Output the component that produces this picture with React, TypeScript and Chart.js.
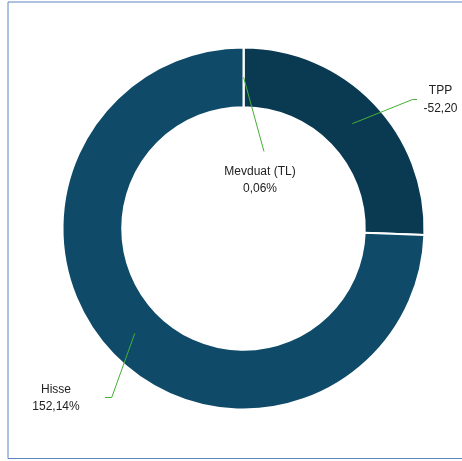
import React, { useEffect, useRef } from "react";
import { Chart, registerables } from "chart.js";

Chart.register(...registerables);

// ---- data ----
const categories: string[] = ["Mevduat (TL)", "TPP", "Hisse"];
const values: number[] = [0.06, -52.2, 152.14];
const valueSuffix: string[] = ["%", "", "%"];
const sliceColors: string[] = ["#1d5b7a", "#0a3a52", "#0f4b68"];

// ---- label layout (offsets from the doughnut centre) ----
const labelLayout = [
  { elbow: [20.5, -77], tail: 0, text: [16.5, -57] },
  { elbow: [169, -129], tail: 4.5, text: [197, -137.5] },
  { elbow: [-131.8, 169], tail: -6.7, text: [-187.5, 161] },
];

const fmt = (v: number, suffix: string) =>
  v.toFixed(2).replace(".", ",") + suffix;

const leaderPlugin = {
  id: "leaderLabels",
  afterDatasetsDraw(chart: any) {
    const ctx = chart.ctx as CanvasRenderingContext2D;
    const meta = chart.getDatasetMeta(0);
    meta.data.forEach((arc: any, i: number) => {
      const p = arc.getProps(
        ["x", "y", "startAngle", "endAngle", "innerRadius", "outerRadius"],
        true
      );
      const mid = (p.startAngle + p.endAngle) / 2;
      const r = (p.innerRadius + p.outerRadius) / 2;
      const sx = p.x + Math.cos(mid) * r;
      const sy = p.y + Math.sin(mid) * r;
      const L = labelLayout[i];
      const ex = p.x + L.elbow[0];
      const ey = p.y + L.elbow[1];
      ctx.save();
      ctx.strokeStyle = "#45b035";
      ctx.lineWidth = 1;
      ctx.beginPath();
      ctx.moveTo(sx, sy);
      ctx.lineTo(ex, ey);
      if (L.tail) ctx.lineTo(ex + L.tail, ey);
      ctx.stroke();
      ctx.fillStyle = "#222222";
      ctx.font = '12px "Liberation Sans", Arial, sans-serif';
      ctx.textAlign = "center";
      ctx.textBaseline = "middle";
      const tx = p.x + L.text[0];
      const ty = p.y + L.text[1];
      ctx.fillText(categories[i], tx, ty);
      ctx.fillText(fmt(values[i], valueSuffix[i]), tx, ty + 17.5);
      ctx.restore();
    });
  },
};

const framePlugin = {
  id: "frame",
  beforeDraw(chart: any) {
    const ctx = chart.ctx as CanvasRenderingContext2D;
    ctx.save();
    ctx.fillStyle = "#ffffff";
    ctx.fillRect(0, 0, chart.width, chart.height);
    ctx.strokeStyle = "#5b86c0";
    ctx.lineWidth = 1;
    ctx.beginPath();
    ctx.moveTo(8, 2);
    ctx.lineTo(8, 458.5);
    ctx.lineTo(chart.width + 2, 458.5);
    ctx.moveTo(8, 2);
    ctx.lineTo(chart.width + 2, 2);
    ctx.stroke();
    ctx.restore();
  },
};

export default function App() {
  const ref = useRef<HTMLCanvasElement>(null);
  useEffect(() => {
    if (!ref.current) return;
    const chart = new Chart(ref.current, {
      type: "doughnut",
      data: {
        labels: categories,
        datasets: [
          {
            data: values.map((v) => Math.abs(v)),
            backgroundColor: sliceColors,
            borderColor: "#ffffff",
            borderWidth: 2,
            hoverOffset: 0,
          },
        ],
      },
      options: {
        responsive: false,
        animation: false,
        devicePixelRatio: 1,
        cutout: "67%",
        layout: { padding: { left: 61.5, right: 36.5, top: 46, bottom: 50 } },
        plugins: {
          legend: { display: false },
          tooltip: { enabled: false },
        },
      },
      plugins: [framePlugin, leaderPlugin],
    } as any);
    return () => chart.destroy();
  }, []);
  return (
    <div
      style={{
        position: "fixed",
        left: 0,
        top: 0,
        width: 462,
        height: 461,
        background: "#fff",
      }}
    >
      <canvas
        ref={ref}
        width={462}
        height={461}
        style={{ display: "block", width: 462, height: 461 }}
      />
    </div>
  );
}
